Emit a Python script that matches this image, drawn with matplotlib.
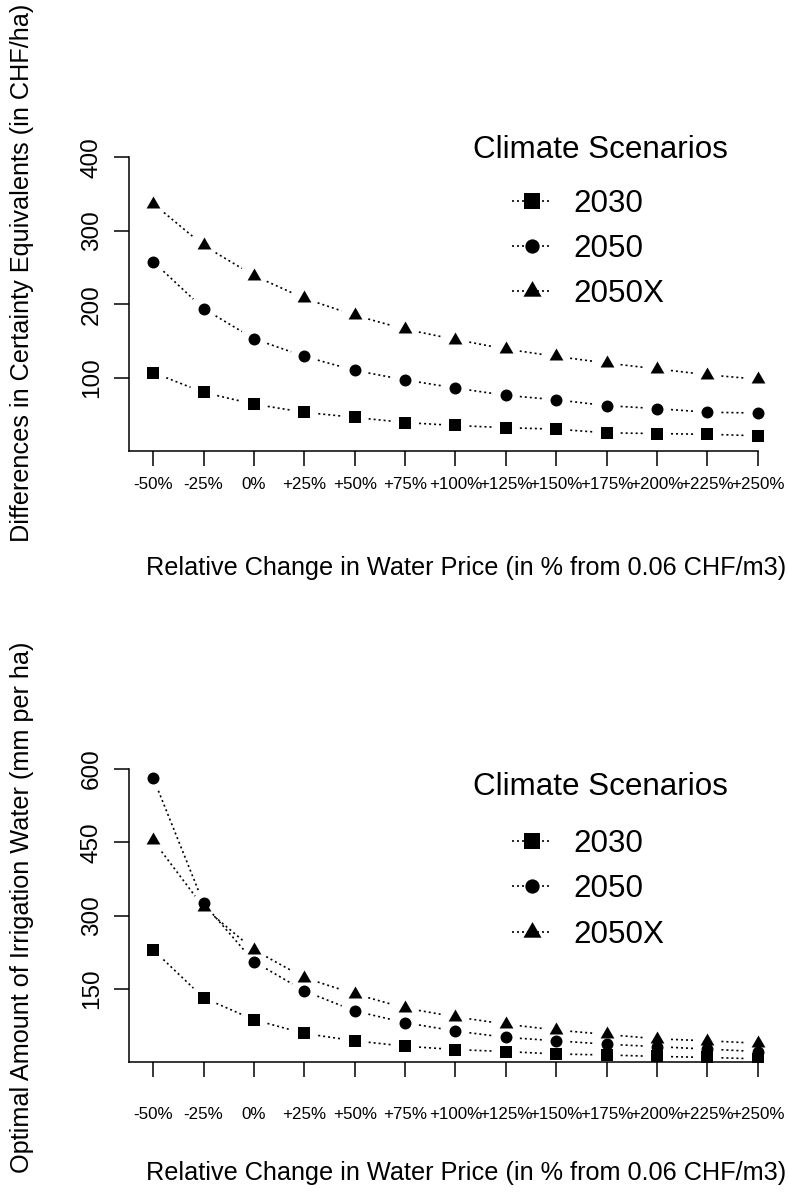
import numpy as np
import matplotlib
matplotlib.use("Agg")
import matplotlib.pyplot as plt
from matplotlib.path import Path
from matplotlib.lines import Line2D

# ---- data -------------------------------------------------------------
price_labels = ["-50%", "-25%", "0%", "+25%", "+50%", "+75%", "+100%",
                "+125%", "+150%", "+175%", "+200%", "+225%", "+250%"]
scenarios = ["2030", "2050", "2050X"]

# differences in certainty equivalents (CHF/ha)
ce_2030 = [107, 80, 64, 53, 46, 39, 35, 32, 30, 25, 24, 23, 21]
ce_2050 = [258, 194, 153, 129, 110, 97, 86, 76, 70, 62, 58, 53, 52]
ce_2050x = [337, 280, 239, 208, 185, 166, 152, 139, 129, 120, 112, 104, 98]

# optimal amount of irrigation water (mm per ha)
irr_2030 = [230, 132, 87, 59, 44, 33, 26, 22, 17, 15, 12, 10, 7]
irr_2050 = [582, 325, 206, 146, 105, 81, 64, 51, 44, 37, 32, 27, 22]
irr_2050x = [454, 317, 230, 173, 140, 111, 93, 78, 66, 57, 48, 44, 39]

ce_ticks = [100, 200, 300, 400]
irr_ticks = [150, 300, 450, 600]

# ---- figure setup -----------------------------------------------------
W, H = 788, 1197
FONT = "Liberation Sans"
plt.rcParams["font.family"] = [FONT, "DejaVu Sans"]

fig = plt.figure(figsize=(W / 100, H / 100), dpi=100)
fig.patch.set_facecolor("white")

# filled triangle with its centroid at the data point
tri = Path([(0.0, 1.5551), (1.3468, -0.7776), (-1.3468, -0.7776), (0.0, 1.5551)],
           [Path.MOVETO, Path.LINETO, Path.LINETO, Path.CLOSEPOLY])
styles = [dict(marker="s", ms=8.7), dict(marker="o", ms=8.6), dict(marker=tri, ms=11.5)]
legend_styles = [dict(marker="s", ms=11.5), dict(marker="o", ms=10.3), dict(marker=tri, ms=15.0)]
DOT = (0, (1.2, 1.8))
LW = 1.2
GAP = 14  # pixels left blank around each point on the connecting lines


def px_rect(x0, x1, ytop, ybot):
    return [x0 / W, 1 - ybot / H, (x1 - x0) / W, (ybot - ytop) / H]


def fx(x):
    return x / W


def fy(y):
    return 1 - y / H


def draw_series(ax, xs, ys, style):
    """Points joined by dotted segments that stop short of each point."""
    pts = ax.transData.transform(np.column_stack([xs, ys]))
    inv = ax.transData.inverted()
    for a, b in zip(pts[:-1], pts[1:]):
        d = b - a
        L = np.hypot(*d)
        if L <= 2 * GAP:
            continue
        u = d / L
        seg = inv.transform(np.vstack([a + u * GAP, b - u * GAP]))
        ax.plot(seg[:, 0], seg[:, 1], color="black", lw=LW, linestyle=DOT,
                solid_capstyle="butt", dash_capstyle="butt")
    ax.plot(xs, ys, linestyle="none", color="black", mec="black",
            mew=0, **style)


def draw_panel(ax, series, yticks, ylim, ylabel, ylabel_y, xlabel_base,
               xtick_pad, leg_rows):
    x = np.arange(1, len(price_labels) + 1)
    ax.set_xlim(0.52, len(price_labels) + 0.48)
    ax.set_ylim(*ylim)
    for vals, st in zip(series, styles):
        draw_series(ax, x, vals, st)

    for s in ["top", "right"]:
        ax.spines[s].set_visible(False)
    for s in ["left", "bottom"]:
        ax.spines[s].set_linewidth(1.1)
    ax.spines["bottom"].set_bounds(0.52, len(price_labels))
    ax.spines["left"].set_bounds(ylim[0], ylim[1])

    ax.set_xticks(x)
    ax.set_xticklabels(price_labels, fontsize=12.2)
    ax.set_yticks(yticks)
    ax.set_yticklabels([str(t) for t in yticks], fontsize=17.5,
                       rotation=90, va="center")
    ax.tick_params(axis="x", length=10.8, width=1.1, pad=xtick_pad)
    ax.tick_params(axis="y", length=10.8, width=1.1, pad=8)

    # axis titles
    fig.text(fx(466), fy(xlabel_base), "Relative Change in Water Price (in % from 0.06 CHF/m3)",
             fontsize=18.2, ha="center", va="baseline")
    fig.text(fx(22), fy(ylabel_y), ylabel, fontsize=18.2, rotation=90,
             ha="center", va="center")

    # legend block
    title_base, rows = leg_rows
    fig.text(fx(600), fy(title_base), "Climate Scenarios", fontsize=22.6,
             ha="center", va="baseline")
    for name, st, base in zip(scenarios, legend_styles, rows):
        yc = fy(base - 10.8)
        fig.add_artist(Line2D([fx(512), fx(550)], [yc, yc], color="black",
                              lw=LW, linestyle=DOT))
        fig.add_artist(Line2D([fx(531.7)], [yc], color="black", linestyle="none",
                              mew=0, **st))
        fig.text(fx(573), fy(base), name, fontsize=22.6, ha="left", va="baseline")


ax1 = fig.add_axes(px_rect(129, 782, 157.3, 451.2))
draw_panel(ax1, [ce_2030, ce_2050, ce_2050x], ce_ticks, (0, 400),
           "Differences in Certainty Equivalents (in CHF/ha)", 273, 575, 7.5,
           (158.3, [211.7, 256.7, 301.7]))

ax2 = fig.add_axes(px_rect(129, 782, 769, 1062.3))
draw_panel(ax2, [irr_2030, irr_2050, irr_2050x], irr_ticks, (0, 600),
           "Optimal Amount of Irrigation Water (mm per ha)", 907, 1180, 21.5,
           (795, [851.7, 896.7, 943]))

fig.savefig("out.png", dpi=100, facecolor="white")
